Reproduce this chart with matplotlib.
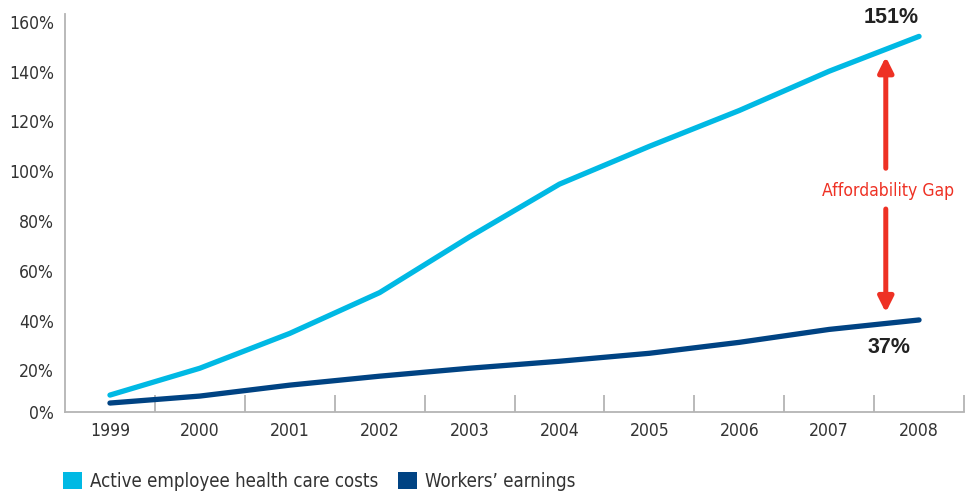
import matplotlib.pyplot as plt
import matplotlib.transforms as mtransforms
from matplotlib import font_manager
from matplotlib.patches import Patch
import numpy as np

# 数据
years = ['1999', '2000', '2001', '2002', '2003', '2004', '2005', '2006', '2007', '2008']
health_costs = [6.8, 17.6, 31.6, 48.0, 70.4, 91.6, 106.8, 121.2, 137.0, 151.0]
earnings = [3.6, 6.4, 10.8, 14.4, 17.6, 20.4, 23.6, 28.0, 33.2, 37.0]
ytick_values = [0, 20, 40, 60, 80, 100, 120, 140, 160]
series_names = ['Active employee health care costs', "Workers\u2019 earnings"]

CYAN = '#00B9E4'
NAVY = '#004383'
RED = '#EE3124'
GRAY = '#B4B4B4'
TEXT = '#333333'

# 找一个窄体字体
fonts = font_manager.fontManager.ttflist
names = {f.name for f in fonts}
has_dv_cond = any(f.name == 'DejaVu Sans' and f.stretch in ('condensed', 'semi-condensed') for f in fonts)
if 'Liberation Sans Narrow' in names:
    plt.rcParams['font.family'] = ['Liberation Sans Narrow', 'DejaVu Sans']
    scale = 1.0
elif has_dv_cond:
    plt.rcParams['font.family'] = ['DejaVu Sans']
    plt.rcParams['font.stretch'] = 'condensed'
    scale = 0.84
else:
    plt.rcParams['font.family'] = ['Roboto', 'DejaVu Sans']
    scale = 0.8

fig = plt.figure(figsize=(9.75, 4.93), dpi=100)
ax = fig.add_axes([65 / 975, 81 / 493, 899 / 975, 398 / 493])

x = np.arange(len(years))
ax.plot(x, health_costs, color=CYAN, lw=3.8, solid_capstyle='round', solid_joinstyle='round')
ax.plot(x, earnings, color=NAVY, lw=3.8, solid_capstyle='round', solid_joinstyle='round')

ax.set_xlim(-0.5, len(years) - 0.5)
ax.set_ylim(0, 159.2)

# 坐标轴
for s in ['top', 'right']:
    ax.spines[s].set_visible(False)
for s in ['left', 'bottom']:
    ax.spines[s].set_color(GRAY)
    ax.spines[s].set_linewidth(1.3)

fs = 15 * scale
ax.set_xticks(np.arange(len(years)) + 0.5)
ax.set_xticklabels([])
ax.tick_params(axis='x', which='major', direction='in', length=12.5, width=1.3, color=GRAY)
ax.set_xticks(x, minor=True)
ax.set_xticklabels(years, minor=True, fontsize=fs, color=TEXT)
ax.tick_params(axis='x', which='minor', length=0, pad=7)

ax.set_yticks(ytick_values)
ax.set_yticklabels([f'{v}%' for v in ytick_values], fontsize=fs, color=TEXT)
ax.tick_params(axis='y', length=0, pad=8)
# 标签略微下移 (与原图一致)
for lab in ax.get_yticklabels()[1:]:
    lab.set_transform(lab.get_transform() + mtransforms.ScaledTranslation(0, -8 / 100, fig.dpi_scale_trans))

# 注释
last = len(years) - 1
bold_family = ['Liberation Sans', 'DejaVu Sans']
ax.text(last - 0.31, health_costs[-1] + 3.5, f'{health_costs[-1]:.0f}%', ha='center', va='bottom',
        fontsize=15.5, fontweight='bold', family=bold_family, stretch='normal', color='#222222')
ax.text(last - 0.33, earnings[-1] - 7, f'{earnings[-1]:.0f}%', ha='center', va='top',
        fontsize=15.5, fontweight='bold', family=bold_family, stretch='normal', color='#222222')

ax_x = last - 0.37
arrow_kw = dict(arrowstyle='-|>,head_length=0.9,head_width=0.45', color=RED, lw=3.6, shrinkA=0, shrinkB=0)
ax.annotate('', xy=(ax_x, 142.8), xytext=(ax_x, 98), arrowprops=arrow_kw)
ax.annotate('', xy=(ax_x, 40), xytext=(ax_x, 81.6), arrowprops=arrow_kw)
ax.text(ax_x + 0.03, 89, 'Affordability Gap', ha='center', va='center', fontsize=fs, color=RED)

handles = [Patch(facecolor=CYAN, edgecolor='none'), Patch(facecolor=NAVY, edgecolor='none')]
fig.legend(handles, series_names, loc='lower left', bbox_to_anchor=(56 / 975, -5 / 493), ncol=2,
           frameon=False, fontsize=16 * scale, handlelength=1.0, handleheight=1.05,
           handletextpad=0.4, columnspacing=1.1, labelcolor=TEXT, borderaxespad=0)

fig.savefig('out.png', dpi=100)
